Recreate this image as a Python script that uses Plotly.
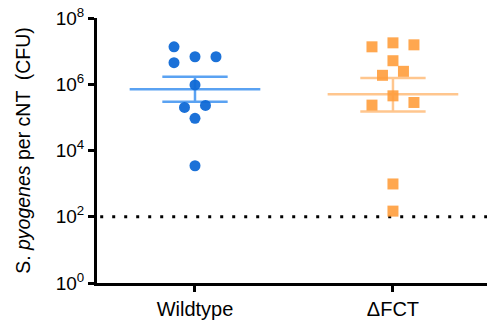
import plotly.graph_objects as go

categories = ["Wildtype", "\u0394FCT"]

# log10 CFU values
wt_log = [7.13, 6.65, 6.83, 6.83, 5.98, 5.30, 5.36, 4.97, 3.54]
wt_jitter = [-0.106, -0.106, 0.0, 0.106, 0.0, -0.053, 0.053, 0.0, 0.0]
fct_log = [7.13, 7.25, 7.19, 6.71, 6.39, 6.27, 5.65, 5.37, 5.45, 2.99, 2.17]
fct_jitter = [-0.106, 0.0, 0.106, 0.0, 0.053, -0.053, 0.0, -0.106, 0.106, 0.0, 0.0]

means_log = [5.85, 5.70]
upper_log = [6.23, 6.19]
lower_log = [5.47, 5.18]

detection_limit = 100

tick_powers = [0, 2, 4, 6, 8]

pt_colors = ["#0F6AD6", "#FF9E3D"]
line_colors = ["#5AA2F2", "#FFC68E"]
symbols = ["circle", "square"]

fig = go.Figure()

# detection limit line
fig.add_trace(go.Scatter(
    x=[-0.6, 1.6], y=[detection_limit, detection_limit], mode="lines",
    line=dict(color="black", width=3, dash="3px,9px"),
    hoverinfo="skip", showlegend=False))

groups = [(wt_log, wt_jitter), (fct_log, fct_jitter)]
for i, (vals, jit) in enumerate(groups):
    m, u, l = 10 ** means_log[i], 10 ** upper_log[i], 10 ** lower_log[i]
    lc = line_colors[i]
    fig.add_trace(go.Scatter(x=[i - 0.33, i + 0.33], y=[m, m], mode="lines",
                             line=dict(color=lc, width=2.5), showlegend=False))
    fig.add_trace(go.Scatter(x=[i, i], y=[l, u], mode="lines",
                             line=dict(color=lc, width=2.5), showlegend=False))
    for v in (u, l):
        fig.add_trace(go.Scatter(x=[i - 0.165, i + 0.165], y=[v, v], mode="lines",
                                 line=dict(color=lc, width=2.5), showlegend=False))
    fig.add_trace(go.Scatter(
        x=[i + j for j in jit], y=[10 ** v for v in vals], mode="markers",
        marker=dict(color=pt_colors[i], size=11, symbol=symbols[i], line=dict(width=0)),
        opacity=0.95 if i == 0 else 0.9, showlegend=False))

fig.update_layout(
    width=487, height=325,
    margin=dict(l=97, r=0, t=18, b=42),
    paper_bgcolor="white", plot_bgcolor="white",
    font=dict(family="Liberation Sans, Arial, sans-serif", size=16, color="black"),
    showlegend=False,
)
fig.update_xaxes(
    range=[-0.495, 1.475], tickvals=[0, 1], ticktext=categories,
    showgrid=False, zeroline=False, showline=True, linecolor="black", linewidth=3,
    ticks="outside", ticklen=6, tickwidth=3, tickcolor="black",
    tickfont=dict(size=20),
)
fig.update_yaxes(
    type="log", range=[0, 8],
    tickvals=[10 ** p for p in tick_powers],
    ticktext=[f"10<sup>{p}</sup>" for p in tick_powers],
    showgrid=False, zeroline=False, showline=True, linecolor="black", linewidth=3,
    ticks="outside", ticklen=6, tickwidth=3, tickcolor="black",
    tickfont=dict(size=19),
    title=dict(text="S. <i>pyogenes</i> per cNT  (CFU)", font=dict(size=19.5), standoff=20),
)

fig.write_html("out.html")
